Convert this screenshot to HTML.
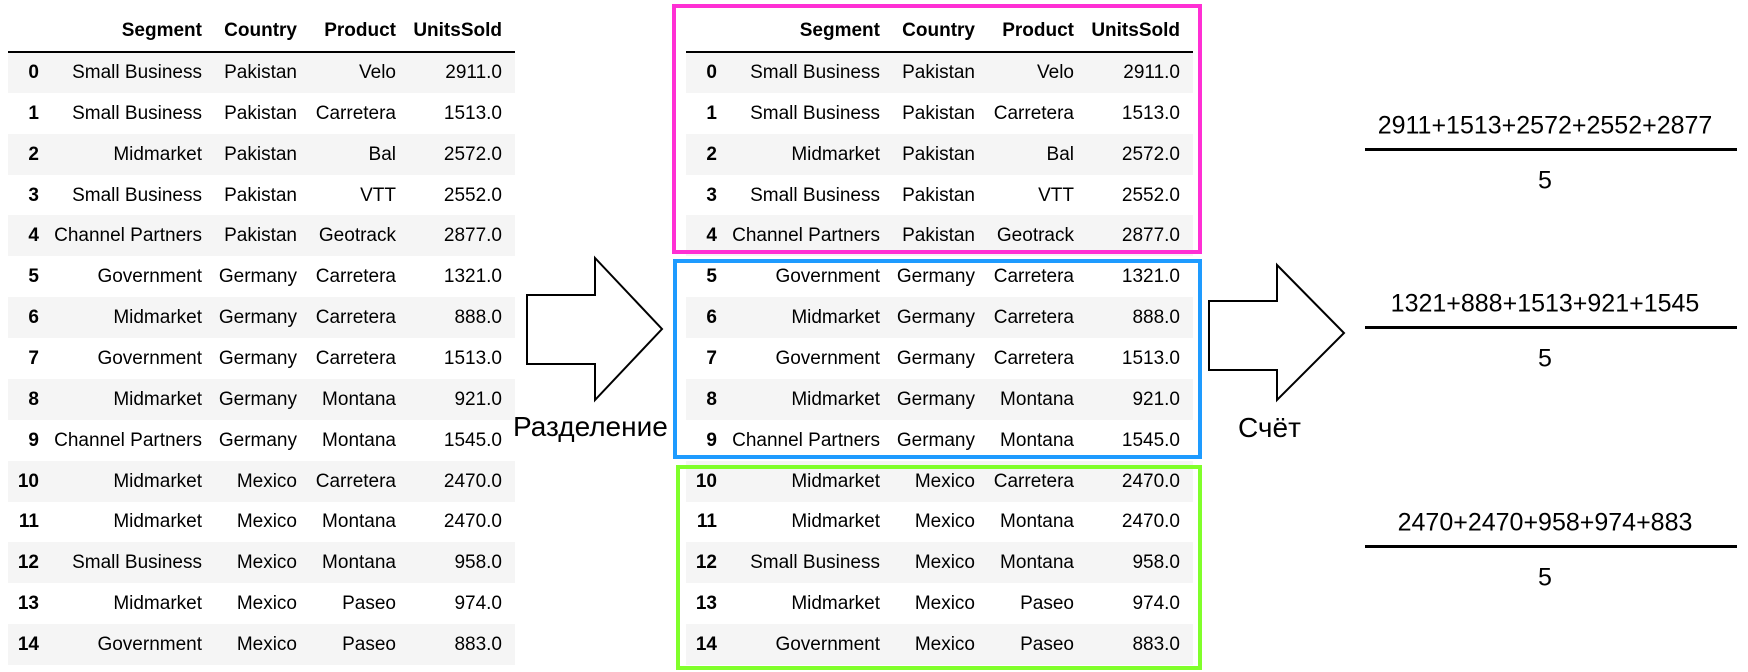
<!DOCTYPE html>
<html><head><meta charset="utf-8">
<style>
html,body{margin:0;padding:0;background:#fff;}
#root{position:relative;width:1748px;height:672px;overflow:hidden;font-family:"Liberation Sans",Arial,sans-serif;color:#000;}
.c{position:absolute;font-size:19px;line-height:41px;height:41px;white-space:nowrap;}
.r{transform:translateX(-100%);}
.h{font-weight:bold;}
.stripe{position:absolute;background:#f5f5f5;height:41px;}
.box{position:absolute;box-sizing:border-box;border:4px solid;}
.lbl{position:absolute;font-size:28px;white-space:nowrap;font-family:"Liberation Sans","DejaVu Sans",sans-serif;}
.ftxt{position:absolute;font-size:25px;white-space:nowrap;transform:translate(-50%,-50%);}
.fline{position:absolute;height:3px;background:#000;}
</style></head>
<body>
<div id="root">
<svg width="1748" height="672" style="position:absolute;left:0;top:0">
  <polygon points="527,295 595,295 595,258 662,329 595,400 595,364 527,364" fill="#fff" stroke="#000" stroke-width="2"/>
  <polygon points="1209,301 1277,301 1277,265 1344,333 1277,400 1277,370 1209,370" fill="#fff" stroke="#000" stroke-width="2"/>
</svg>
<div class="lbl" style="left:513px;top:411px;">Разделение</div>
<div class="lbl" style="left:1238px;top:412px;">Счёт</div>

<div class="box" style="left:672px;top:4px;width:530px;height:250px;border-color:#ff2fd4;"></div>
<div class="box" style="left:673px;top:259px;width:529px;height:200px;border-color:#1e9bff;"></div>
<div class="box" style="left:676px;top:465px;width:526px;height:205px;border-color:#80ff2a;"></div>
</div>
<script>
const indexLabels=["0","1","2","3","4","5","6","7","8","9","10","11","12","13","14"];
const segments=["Small Business","Small Business","Midmarket","Small Business","Channel Partners","Government","Midmarket","Government","Midmarket","Channel Partners","Midmarket","Midmarket","Small Business","Midmarket","Government"];
const countries=["Pakistan","Pakistan","Pakistan","Pakistan","Pakistan","Germany","Germany","Germany","Germany","Germany","Mexico","Mexico","Mexico","Mexico","Mexico"];
const products=["Velo","Carretera","Bal","VTT","Geotrack","Carretera","Carretera","Carretera","Montana","Montana","Carretera","Montana","Montana","Paseo","Paseo"];
const unitsSold=[2911,1513,2572,2552,2877,1321,888,1513,921,1545,2470,2470,958,974,883];
const headers=["Segment","Country","Product","UnitsSold"];
const groupSize=5;

const root=document.getElementById('root');
function add(cls,text,left,top,parent){
  const d=document.createElement('div');
  d.className=cls;d.textContent=text;d.style.left=left+'px';d.style.top=top+'px';
  (parent||root).appendChild(d);return d;
}
function buildTable(x0,name){
  const t=document.createElement('div');
  
  
  t.style.position='absolute';t.style.left='0';t.style.top='0';
  root.insertBefore(t,root.firstChild);
  const cols=[x0+194,x0+289,x0+388,x0+494];
  for(let i=0;i<indexLabels.length;i++){
    const top=52+i*40.85;
    if(i%2===0){
      const s=add('stripe','',x0,top,t);s.style.width='507px';
      
      
    }
    const ix=add('c h r',indexLabels[i],x0+31,top,t);
    
    
    const vals=[segments[i],countries[i],products[i],unitsSold[i].toFixed(1)];
    for(let j=0;j<4;j++){
      const c=add('c r',vals[j],cols[j],top,t);
      
      
    }
  }
  for(let j=0;j<4;j++){
    const h=add('c h r',headers[j],cols[j],10,t);
    
    
  }
  const line=document.createElement('div');
  line.style.cssText='position:absolute;left:'+x0+'px;top:51px;width:507px;height:2px;background:#000;';
  
  
  t.appendChild(line);
}
buildTable(8,'source-table');
buildTable(686,'grouped-table');

const fracY=[126,304,523];
for(let g=0;g<fracY.length;g++){
  const vals=unitsSold.slice(g*groupSize,(g+1)*groupSize);
  const y=fracY[g];
  const num=add('ftxt',vals.join('+'),1545,y);
  
  
  const ln=document.createElement('div');ln.className='fline';
  ln.style.left='1365px';ln.style.width='372px';ln.style.top=(y+22)+'px';
  
  
  root.appendChild(ln);
  const den=add('ftxt',String(vals.length),1545,y+55);
  
  
}
</script>
</body></html>
